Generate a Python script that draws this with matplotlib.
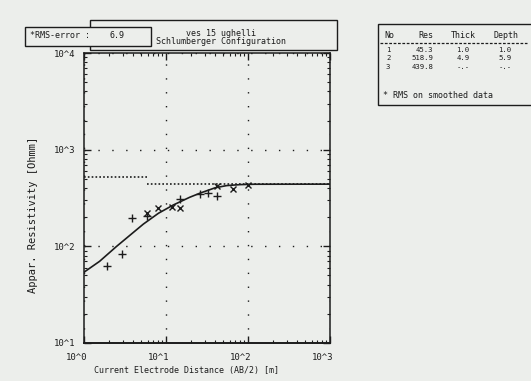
import matplotlib
matplotlib.use("Agg")
import matplotlib.pyplot as plt
import matplotlib.transforms as mtransforms
from matplotlib.patches import Rectangle
from matplotlib.lines import Line2D
from matplotlib.ticker import LogLocator, NullFormatter, FixedFormatter, FixedLocator

# --- sounding data -------------------------------------------------------
# field readings, first electrode spread (+)
ab2_plus = [1.92, 2.88, 3.89, 5.89, 14.8, 25.7, 32.3, 41.4]
rho_plus = [62, 84, 197, 206, 308, 344, 359, 332]
# field readings, overlapping spread (x)
ab2_cross = [5.89, 7.91, 12.0, 15.0, 41.4, 66.1, 100.0]
rho_cross = [223, 247, 258, 248, 416, 393, 436]
# smoothed model response
curve_ab2 = [1.0, 1.55, 2.5, 5.3, 8.1, 12.3, 19.5, 26.0, 40.0, 55.0, 80.0, 120.0, 1000.0]
curve_rho = [54, 70, 100, 170, 220, 268, 322, 355, 404, 425, 435, 439, 440]

# inverted layer model
layer_no = ["1", "2", "3"]
layer_res = [45.3, 518.9, 439.8]
layer_thick = [1.0, 4.9, None]
layer_depth = [1.0, 5.9, None]
rms_error = 6.9

x_ticks = [1, 10, 100, 1000]
x_ticklabels = ["10^0", "10^1", "10^2", "10^3"]
y_ticks = [10, 100, 1000, 10000]
y_ticklabels = ["10^1", "10^2", "10^3", "10^4"]

# --- figure ----------------------------------------------------------------
W, H = 531, 381
BG = "#eceeeb"
INK = "#1c1c1c"
MONO = "DejaVu Sans Mono"

fig = plt.figure(figsize=(W / 100, H / 100), dpi=100, facecolor=BG)


def fx(px):
    return px / W


def fy(py):
    return 1 - py / H


def box(x0, y0, x1, y1, z=1, lw=1.0):
    r = Rectangle((fx(x0), fy(y1)), fx(x1) - fx(x0), fy(y0) - fy(y1),
                  transform=fig.transFigure, facecolor=BG, edgecolor=INK,
                  lw=lw, zorder=z)
    fig.add_artist(r)


def ftext(px, py, s, ha="left", size=6, **kw):
    fig.text(fx(px), fy(py), s, ha=ha, va="center", fontsize=size,
             family=MONO, color=INK, **kw)


AX_L, AX_R, AX_T, AX_B = 84, 330, 53, 343
ax = fig.add_axes([fx(AX_L), fy(AX_B), fx(AX_R) - fx(AX_L), fy(AX_T) - fy(AX_B)])
ax.set_facecolor(BG)
ax.set_xscale("log")
ax.set_yscale("log")
ax.set_xlim(x_ticks[0], x_ticks[-1])
ax.set_ylim(y_ticks[0], y_ticks[-1])


def ax_frac(px, py):
    return ((px - AX_L) / (AX_R - AX_L), (AX_B - py) / (AX_B - AX_T))


# dotted grid at the inner decades
ax.grid(True, which="major", color=INK, lw=1.0, linestyle=(0, (1, 9)))

# layer model as a dotted step
xmin, xmax = ax.get_xlim()
tops = [0.0] + [d for d in layer_depth if d is not None]
bottoms = [d for d in layer_depth if d is not None] + [xmax]
for res, top, bot in zip(layer_res, tops, bottoms):
    left = max(top, xmin)
    if bot > left:
        ax.hlines(res, left, bot, colors=INK, lw=1.2, linestyles=(0, (1, 1.3)))

# model curve and measured points
ax.plot(curve_ab2, curve_rho, color=INK, lw=1.2, zorder=3)
ax.plot(ab2_plus, rho_plus, ls="none", marker="+", ms=6, mew=1.0, color=INK, zorder=4)
ax.plot(ab2_cross, rho_cross, ls="none", marker="x", ms=4.5, mew=1.0, color=INK, zorder=4)

for s in ax.spines.values():
    s.set_color(INK)
    s.set_linewidth(1.1)
ax.spines["bottom"].set_linewidth(1.4)

ax.xaxis.set_major_locator(FixedLocator(x_ticks))
ax.xaxis.set_major_formatter(FixedFormatter(x_ticklabels))
ax.yaxis.set_major_locator(FixedLocator(y_ticks))
ax.yaxis.set_major_formatter(FixedFormatter(y_ticklabels))
ax.xaxis.set_minor_locator(LogLocator(base=10, subs=range(2, 10)))
ax.yaxis.set_minor_locator(LogLocator(base=10, subs=range(2, 10)))
ax.xaxis.set_minor_formatter(NullFormatter())
ax.yaxis.set_minor_formatter(NullFormatter())
ax.tick_params(which="both", direction="in", top=True, right=True, color=INK)
ax.tick_params(which="major", length=5, width=1.0)
ax.tick_params(which="minor", length=2.5, width=0.8)
ax.tick_params(axis="x", which="major", pad=7, labelsize=6.5, labelcolor=INK)
ax.tick_params(axis="y", which="major", pad=6, labelsize=6.5, labelcolor=INK)
for lab in ax.get_xticklabels():
    lab.set_family(MONO)
    lab.set_transform(lab.get_transform() +
                      mtransforms.ScaledTranslation(-7 / 100, 0, fig.dpi_scale_trans))
for lab in ax.get_yticklabels():
    lab.set_family(MONO)

ax.set_xlabel("Current Electrode Distance (AB/2) [m]", family=MONO, fontsize=6,
              color=INK, va="center")
ax.xaxis.set_label_coords(*ax_frac(187, 371))
ax.set_ylabel("Appar. Resistivity [Ohmm]", family=MONO, fontsize=7.5, color=INK,
              va="center")
ax.yaxis.set_label_coords(*ax_frac(33, 215))

# header boxes
box(90, 20, 337, 50, z=1)
box(25, 27, 151, 46, z=2)
ftext(30, 36, "*RMS-error :", size=6, zorder=3)
ftext(110, 36, f"{rms_error:.1f}", size=6, zorder=3)
ftext(221, 33, "ves 15 ughelli", ha="center", size=6, zorder=3)
ftext(221, 42, "Schlumberger Configuration", ha="center", size=6, zorder=3)

# layer table
box(378, 24, 545, 105, z=1)
ftext(384, 35, "No", size=6, zorder=3)
ftext(433, 35, "Res", ha="right", size=6, zorder=3)
ftext(463, 35, "Thick", ha="center", size=6, zorder=3)
ftext(506, 35, "Depth", ha="center", size=6, zorder=3)
fig.add_artist(Line2D([fx(380), fx(527)], [fy(43), fy(43)], transform=fig.transFigure,
                      color=INK, lw=0.9, ls=(0, (2.2, 1.3)), zorder=3))


def fmt(v):
    return "-.-" if v is None else f"{v:.1f}"


for i, (n, r, t, d) in enumerate(zip(layer_no, layer_res, layer_thick, layer_depth)):
    yy = 50 + 8.3 * i
    ftext(386, yy, n, size=5.2, zorder=3)
    ftext(433, yy, f"{r:.1f}", ha="right", size=5.2, zorder=3)
    ftext(463, yy, fmt(t), ha="center", size=5.2, zorder=3)
    ftext(505, yy, fmt(d), ha="center", size=5.2, zorder=3)
ftext(383, 96, "* RMS on smoothed data", size=6, zorder=3)

fig.savefig("out.png", dpi=100, facecolor=BG)
